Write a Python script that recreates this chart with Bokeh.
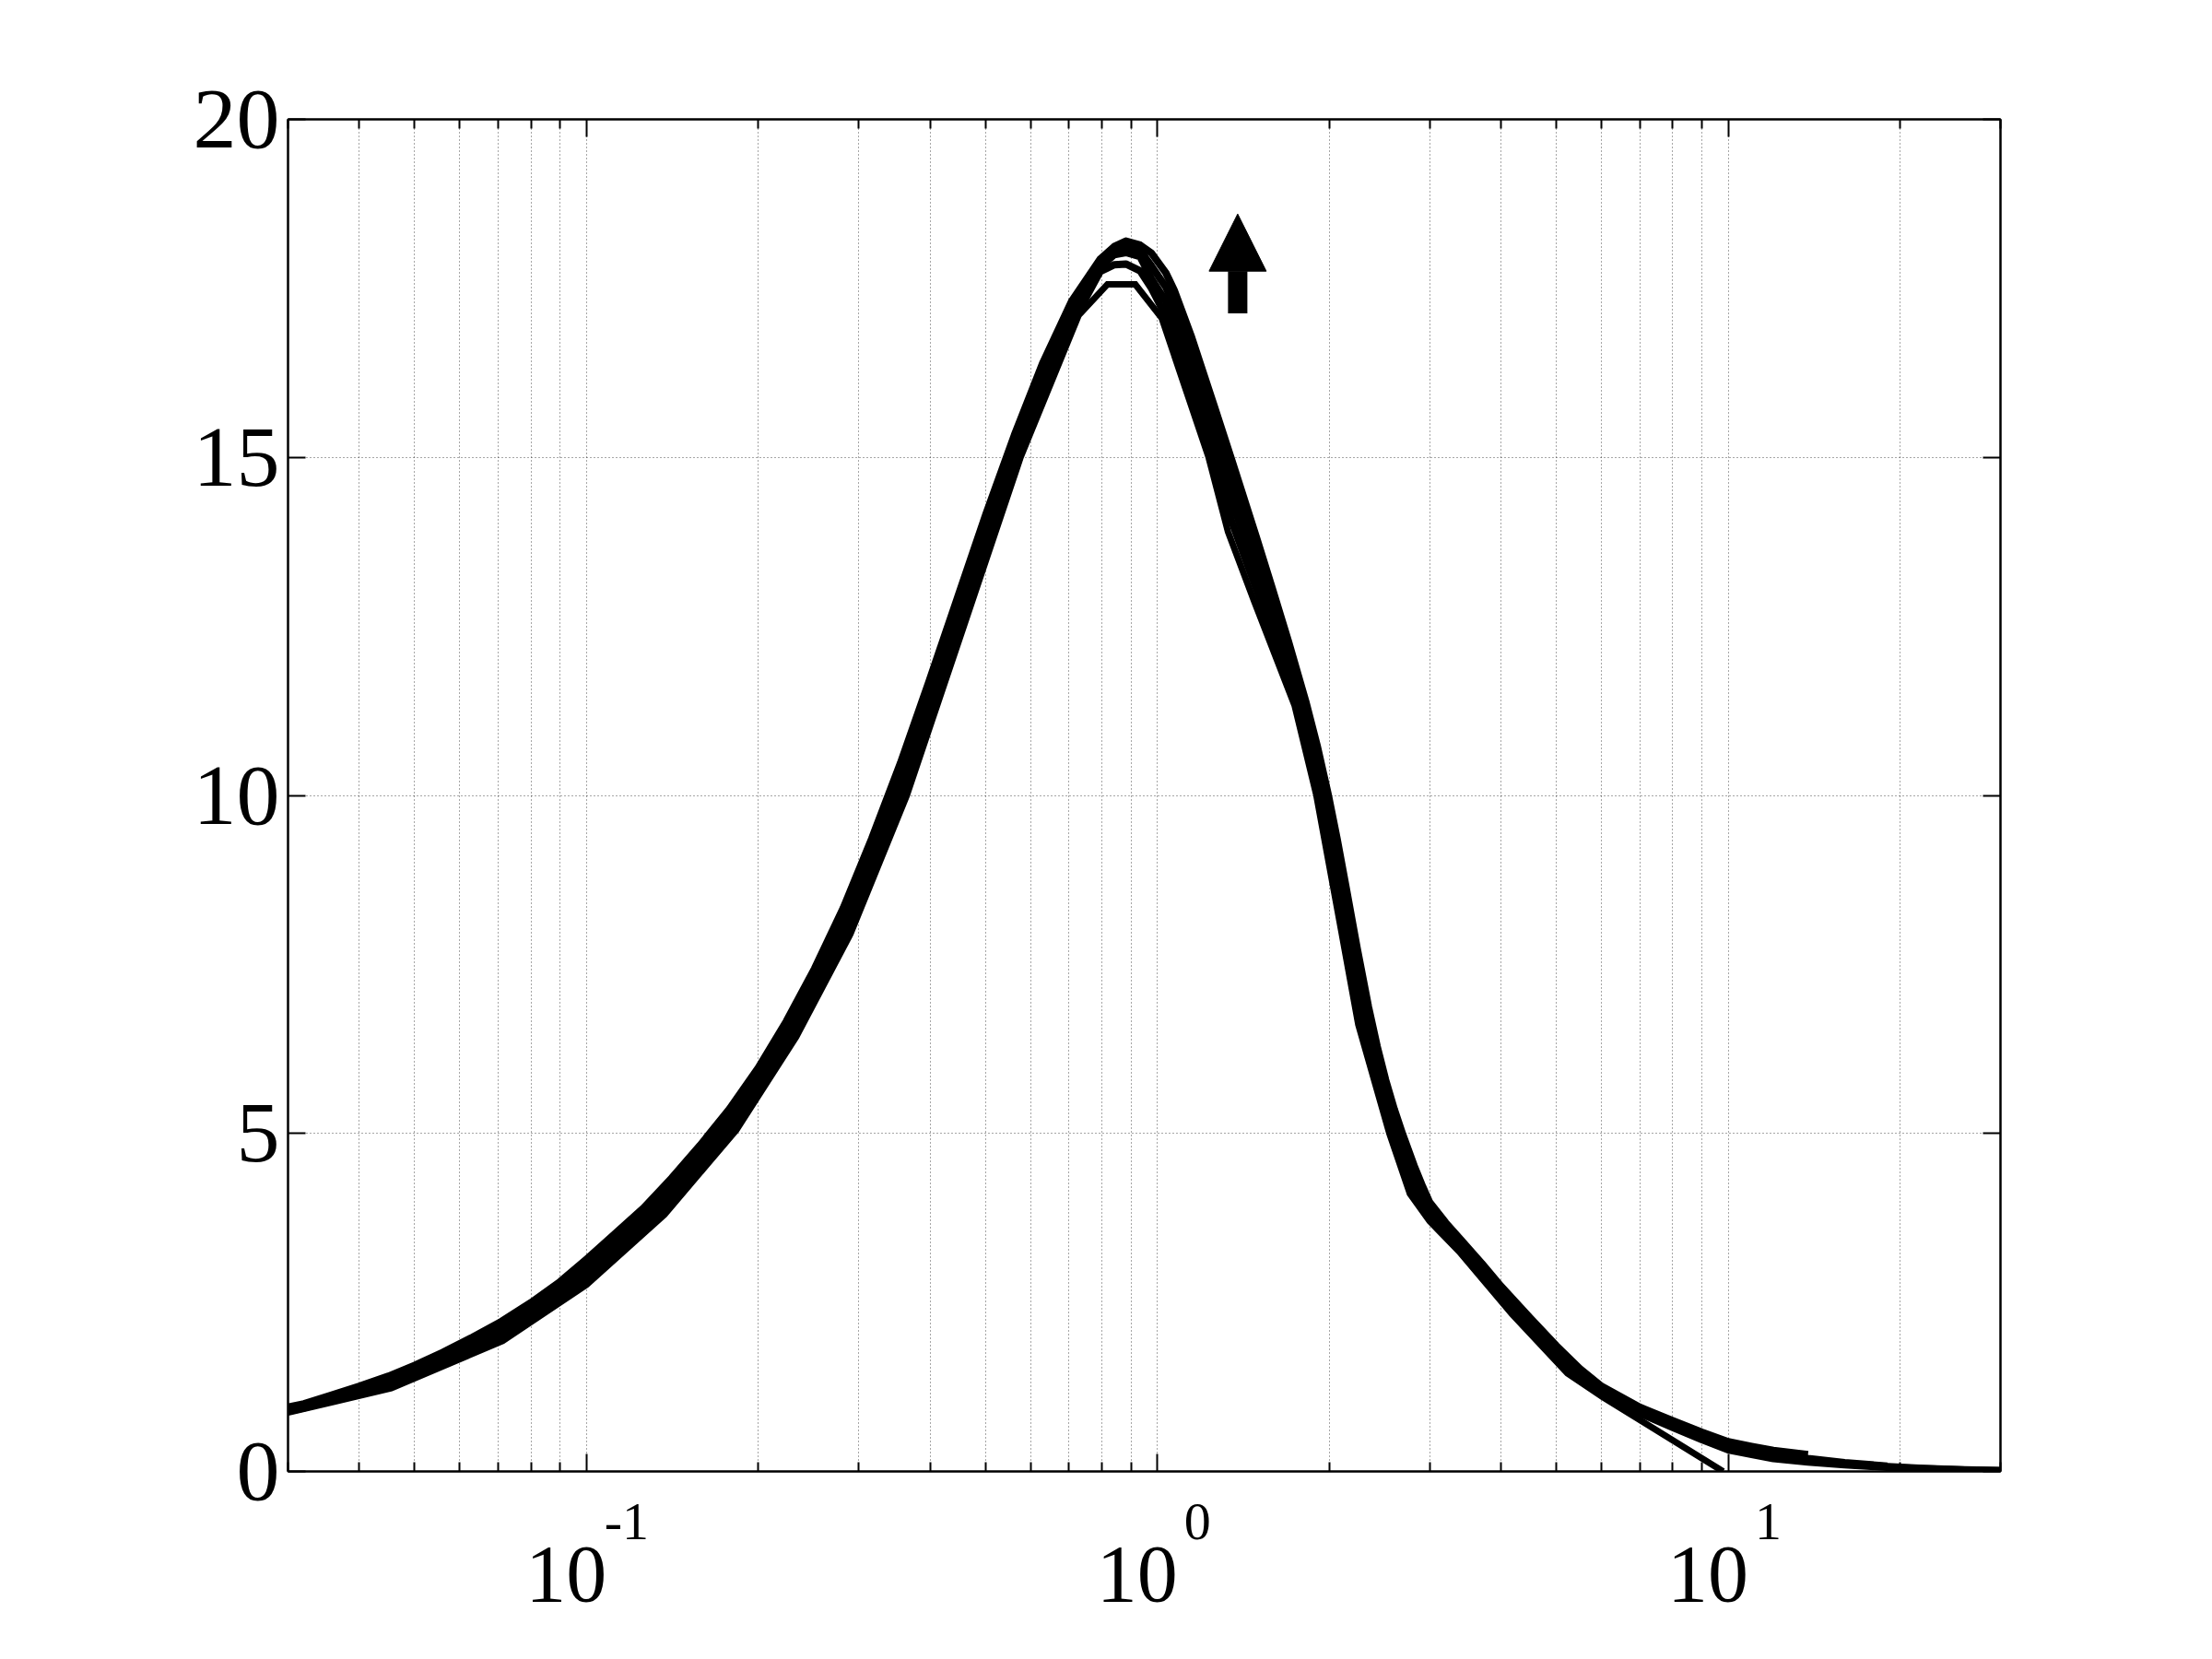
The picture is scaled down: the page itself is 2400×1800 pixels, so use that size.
from bokeh.plotting import figure
from bokeh.models import LogAxis, LinearAxis, FixedTicker, Arrow, NormalHead
from bokeh.embed import file_html
from bokeh.resources import INLINE

nan = float("nan")

# ---- data ----
xs = [0.03, 0.032, 0.0355, 0.04, 0.045, 0.05, 0.056, 0.063, 0.071, 0.08, 0.09, 0.1,
      0.112, 0.126, 0.141, 0.158, 0.178, 0.2, 0.224, 0.251, 0.282, 0.316, 0.355, 0.398,
      0.447, 0.501, 0.562, 0.631, 0.708, 0.794, 0.841, 0.881, 0.933, 0.977, 1.035, 1.072,
      1.148, 1.259, 1.349, 1.496, 1.585, 1.698, 1.82, 1.905, 1.995, 2.065, 2.138, 2.239,
      2.344, 2.427, 2.512, 2.6, 2.692, 2.818, 2.917, 3.0, 3.2, 3.4, 3.7, 4.0,
      4.5, 5.0, 5.5, 6.0, 7.0, 8.0, 9.0, 10.0, 11.0, 12.0, 13.8, 16.0,
      19.0, 22.0, 26.0, 30.0]

c1 = [0.95, 1.00, 1.12, 1.26, 1.41, 1.57, 1.76, 1.98, 2.22, 2.50, 2.81, 3.14,
      3.51, 3.90, 4.34, 4.82, 5.36, 5.97, 6.66, 7.44, 8.34, 9.36, 10.48, 11.68,
      12.93, 14.16, 15.33, 16.41, 17.31, 17.93, 18.12, 18.20, 18.14, 18.02, 17.73, 17.46,
      16.78, 15.75, 14.97, 13.78, 13.10, 12.27, 11.39, 10.74, 9.99, 9.36, 8.67, 7.74,
      6.87, 6.29, 5.79, 5.36, 4.98, 4.52, 4.21, 3.98, 3.68, 3.43, 3.08, 2.74,
      2.27, 1.86, 1.52, 1.26, 0.95, 0.75, 0.58, 0.44, 0.37, 0.31, 0.25, nan,
      nan, nan, nan, nan]

c2 = [0.93, 0.98, 1.09, 1.22, 1.36, 1.52, 1.71, 1.92, 2.15, 2.43, 2.73, 3.05,
      3.42, 3.81, 4.24, 4.72, 5.25, 5.87, 6.55, 7.32, 8.19, 9.20, 10.30, 11.50,
      12.76, 13.99, 15.18, 16.26, 17.20, 17.88, 18.07, 18.12, 18.06, 17.83, 17.52, 17.22,
      16.52, 15.48, 14.67, 13.53, 12.88, 12.09, 11.21, 10.54, 9.75, 9.11, 8.41, 7.48,
      6.67, 6.13, 5.64, 5.22, 4.84, 4.40, 4.12, 3.91, 3.63, 3.38, 3.03, 2.69,
      2.21, 1.80, 1.47, 1.22, 0.92, 0.71, 0.54, 0.40, 0.32, 0.26, 0.19, 0.13,
      0.08, nan, nan, nan]

c3 = [0.91, 0.96, 1.07, 1.19, 1.32, 1.47, 1.66, 1.86, 2.07, 2.36, 2.66, 2.95,
      3.32, 3.71, 4.13, 4.62, 5.15, 5.77, 6.43, 7.19, 8.05, 9.04, 10.13, 11.33,
      12.58, 13.82, 15.03, 16.12, 17.08, 17.82, 18.00, 18.03, 17.97, 17.64, 17.31, 16.98,
      16.27, 15.21, 14.37, 13.27, 12.66, 11.92, 11.02, 10.35, 9.51, 8.85, 8.16, 7.23,
      6.48, 5.96, 5.49, 5.08, 4.70, 4.27, 4.03, 3.84, 3.57, 3.33, 2.97, 2.63,
      2.16, 1.75, 1.43, 1.19, 0.89, 0.68, 0.50, 0.36, 0.28, 0.22, 0.16, 0.11,
      0.07, 0.045, 0.025, 0.012]

cb = [0.89, 0.94, 1.04, 1.15, 1.27, 1.43, 1.60, 1.80, 2.00, 2.28, 2.58, 2.86,
      3.23, 3.62, 4.03, 4.52, 5.04, 5.66, 6.32, 7.07, 7.90, 8.88, 9.95, 11.15,
      12.41, 13.65, 14.88, 15.97, 16.97, 17.75, 17.85, 17.86, 17.76, 17.50, 17.09, 16.74,
      16.01, 14.94, 14.06, 13.02, 12.43, 11.74, 10.84, 10.15, 9.27, 8.60, 7.90, 6.97,
      6.28, 5.80, 5.34, 4.93, 4.56, 4.15, 3.93, 3.77, 3.52, 3.27, 2.92, 2.58,
      2.10, 1.69, 1.38, 1.16, 0.86, 0.65, 0.47, 0.32, 0.25, 0.19, 0.14, 0.10,
      0.06, 0.04, 0.02, 0.01]

xa = [0.03, 0.0455, 0.0713, 0.1, 0.137, 0.183, 0.233, 0.29, 0.364, 0.458, 0.576, 0.728,
      0.818, 0.915, 1.018, 1.23, 1.33, 1.48, 1.74, 1.9, 2.1, 2.25, 2.55, 2.77,
      3.0, 3.38, 4.18, 5.23, 6.03, 9.8]
ya = [0.87, 1.23, 1.93, 2.76, 3.8, 5.05, 6.43, 7.95, 10.0, 12.5, 15.0, 17.1,
      17.56, 17.56, 17.06, 15.0, 13.9, 12.86, 11.33, 10.0, 8.0, 6.61, 5.0, 4.11,
      3.7, 3.25, 2.33, 1.45, 1.1, 0.0]

x_ticks = [0.1, 1, 10]
x_tick_base = ["10", "10", "10"]
x_tick_exp = ["-1", "0", "1"]
y_ticks = [0, 5, 10, 15, 20]

arrow_x = 1.383
arrow_y = [17.13, 18.6]

# ---- figure ----
FONT = "Liberation Serif"
W, H = 2390, 1790
FRAME_L, FRAME_R, FRAME_T, FRAME_B = 312, 2170, 129, 1596
p = figure(width=W, height=H, x_axis_type="log", x_range=(0.03, 30), y_range=(0, 20),
           output_backend="svg", toolbar_location=None,
           min_border_left=FRAME_L, min_border_right=W - FRAME_R, min_border_top=FRAME_T,
           min_border_bottom=H - FRAME_B,
           background_fill_color="white", border_fill_color="white")
p.outline_line_color = "black"
p.outline_line_width = 2

x_minor = [m * 10 ** e for e in (-2, -1, 0, 1) for m in range(2, 10) if 0.03 <= m * 10 ** e <= 30]
xt = FixedTicker(ticks=x_ticks, minor_ticks=x_minor)
yt = FixedTicker(ticks=y_ticks)


def style(ax, minor=True):
    ax.axis_line_width = 2
    ax.axis_line_color = "black"
    ax.major_tick_in = 19
    ax.major_tick_out = 0
    ax.major_tick_line_width = 2
    ax.major_tick_line_color = "black"
    if minor:
        ax.minor_tick_in = 10
        ax.minor_tick_out = 0
        ax.minor_tick_line_width = 2
        ax.minor_tick_line_color = "black"
    else:
        ax.minor_tick_line_color = None


def hide_labels(ax):
    ax.major_label_text_color = None
    ax.major_label_text_font_size = "2px"
    ax.major_label_standoff = 0


# bottom axis: tick marks + exponents (shifted right of the tick with leading spaces)
xax = p.xaxis[0]
xax.ticker = xt
style(xax)
xax.major_label_overrides = {t: "\u2003\u2002" + e for t, e in zip(x_ticks, x_tick_exp)}
xax.major_label_text_font = FONT
xax.major_label_text_font_size = "58px"
xax.major_label_text_color = "black"
xax.major_label_standoff = 21

# second bottom axis: the "10" bases (shifted left of the tick with a trailing space)
xbase = LogAxis(ticker=xt, axis_line_color=None, major_tick_line_color=None,
                minor_tick_line_color=None, major_tick_out=0, minor_tick_out=0,
                major_tick_in=0, minor_tick_in=0)
xbase.major_label_overrides = {t: b + "\u2002" for t, b in zip(x_ticks, x_tick_base)}
xbase.major_label_text_font = FONT
xbase.major_label_text_font_size = "88px"
xbase.major_label_text_color = "black"
xbase.major_label_standoff = -27
p.add_layout(xbase, "below")

yax = p.yaxis[0]
yax.ticker = yt
style(yax, minor=False)
yax.major_label_text_font = FONT
yax.major_label_text_font_size = "94px"
yax.major_label_text_color = "black"
yax.major_label_standoff = 9

top = LogAxis(ticker=xt)
style(top)
hide_labels(top)
p.add_layout(top, "above")
right = LinearAxis(ticker=yt)
style(right, minor=False)
hide_labels(right)
p.add_layout(right, "right")

p.xgrid.ticker = xt
p.ygrid.ticker = yt
for g in (p.xgrid[0], p.ygrid[0]):
    g.grid_line_color = "#000000"
    g.grid_line_width = 1
    g.grid_line_dash = "1 3"
    g.grid_line_alpha = 0.7
p.xgrid[0].minor_grid_line_color = "#000000"
p.xgrid[0].minor_grid_line_width = 1
p.xgrid[0].minor_grid_line_dash = "1 3"
p.xgrid[0].minor_grid_line_alpha = 0.7

# ---- curves ----
for ys in (cb, c3, c2, c1):
    p.line(xs, ys, line_color="black", line_width=8, line_join="round")
p.line(xa, ya, line_color="black", line_width=7, line_join="miter")

# ---- arrow ----
p.add_layout(Arrow(end=NormalHead(size=62, fill_color="black", line_color="black", line_width=1),
                   x_start=arrow_x, y_start=arrow_y[0], x_end=arrow_x, y_end=arrow_y[1],
                   line_color="black", line_width=21))

open("out.html", "w").write(file_html(p, INLINE))
